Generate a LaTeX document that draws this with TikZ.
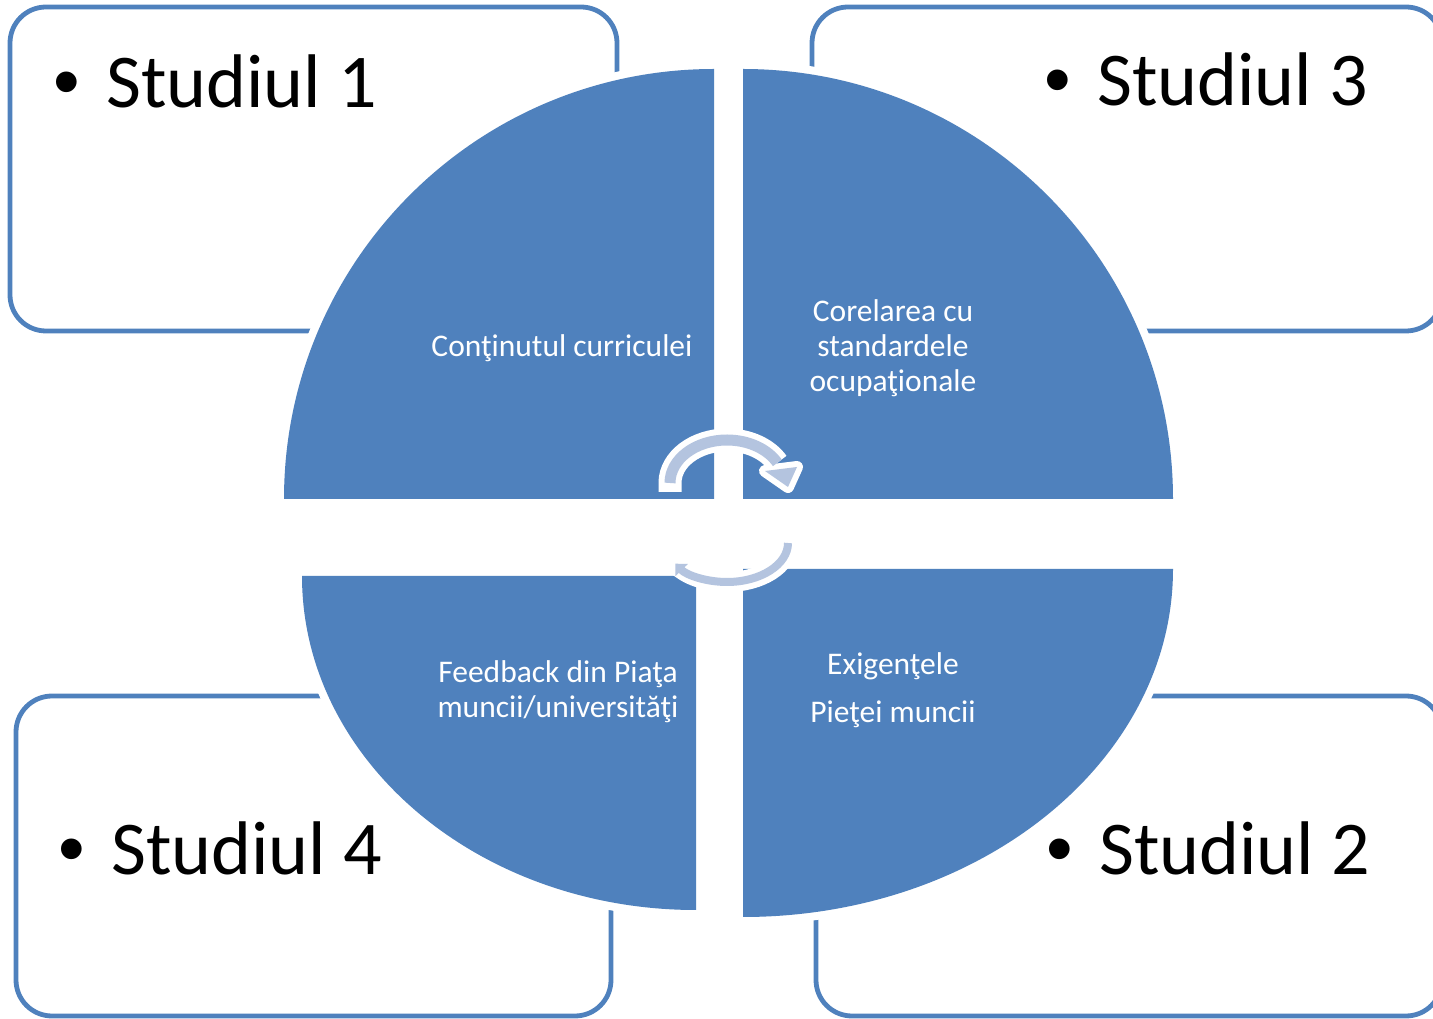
\documentclass[tikz,border=0pt]{standalone}
\usepackage{fontspec}
\setmainfont{Carlito}
\newfontfamily\bulletfont{Liberation Sans}
\usetikzlibrary{arrows.meta, positioning}
\definecolor{quadblue}{RGB}{79,129,189}
\definecolor{arrowblue}{RGB}{180,196,223}

\begin{document}
\begin{tikzpicture}[x=1pt, y=1pt,
  studybox/.style={draw=quadblue, line width=4.8pt, rounded corners=36pt, fill=white, inner sep=0pt},
  studytext/.style={anchor=base west, inner sep=0pt, font=\fontsize{76}{92}\selectfont},
  quarter/.style={fill=quadblue, preaction={draw=white, line width=16pt}},
  quadtext/.style={text=white, align=center, inner sep=0pt, font=\fontsize{31.5}{35}\selectfont},
  arrowback/.style={draw=white, line width=23pt},
  arrowfront/.style={draw=arrowblue, line width=11pt}]
\useasboundingbox (0,0) rectangle (1433,1018);

% the four boxes
\node (B1) [studybox, minimum width=607pt, minimum height=324pt] at (313.5,849) {};
\node (B3) [studybox, minimum width=630pt, minimum height=324pt] at (1127,849) {};
\node (B4) [studybox, minimum width=595pt, minimum height=320pt] at (313.5,162) {};
\node (B2) [studybox, minimum width=626pt, minimum height=320pt] at (1129,162) {};

\node (S1) [studytext] at (53,910) {\makebox[53pt][l]{\bulletfont •}Studiul 1};
\node (S3) [studytext] at (1044,912) {\makebox[53pt][l]{\bulletfont •}Studiul 3};
\node (S4) [studytext] at (58,143) {\makebox[53pt][l]{\bulletfont •}Studiul 4};
\node (S2) [studytext] at (1046,143) {\makebox[53pt][l]{\bulletfont •}Studiul 2};

% the quarters
\path[quarter] (714,519) -- (284,519) arc[start angle=180, end angle=90, radius=430] -- cycle;
\path[quarter] (743,519) -- (743,949) arc[start angle=90, end angle=0, radius=430] -- cycle;
\path[quarter] (696,442) -- (302,442) arc[start angle=180, end angle=270, x radius=394, y radius=334] -- cycle;
\path[quarter] (743,449) -- (1173,449) arc[start angle=0, end angle=-90, x radius=430, y radius=348] -- cycle;

\node (C1) [quadtext] at (562,670) {Conţinutul curriculei};
\node (C3) [quadtext] at (893,670) {Corelarea cu\\standardele\\ocupaţionale};
\node (C4) [quadtext] at (558,326) {Feedback din Piaţa\\muncii/universităţi};
\node (C2) [quadtext] at (893,328) {Exigenţele\\[13pt]Pieţei muncii};

% circular arrows
\draw[arrowback] (670,526) -- (670,535) arc[start angle=180, end angle=28, x radius=57, y radius=43];
\filldraw[white, line width=12pt, line join=round] (765,547) -- (788,531) -- (797,551) -- cycle;
\draw[arrowfront] (670,535) arc[start angle=180, end angle=28, x radius=57, y radius=43];
\fill[arrowblue] (765,547) -- (788,531) -- (797,551) -- cycle;

\draw[draw=white, line width=20pt] (788,475) arc[start angle=0, end angle=-148, x radius=61, y radius=39];
\draw[draw=arrowblue, line width=8pt, -{Triangle[length=9pt, width=17pt]}] (788,475) arc[start angle=0, end angle=-148, x radius=61, y radius=39];
\end{tikzpicture}
\end{document}
